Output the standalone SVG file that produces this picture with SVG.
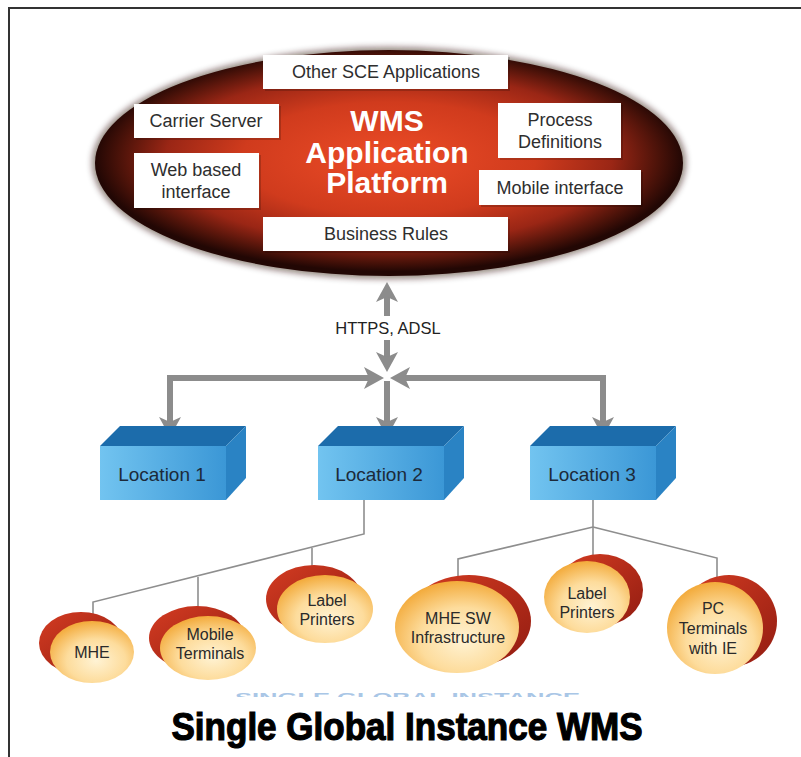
<svg xmlns="http://www.w3.org/2000/svg" width="801" height="757" viewBox="0 0 801 757">
  <defs>
    <radialGradient id="platformFill" cx="0.5" cy="0.48" r="0.5">
      <stop offset="0" stop-color="#ec4c27"/>
      <stop offset="0.5" stop-color="#d03b1d"/>
      <stop offset="0.76" stop-color="#9a2615"/>
      <stop offset="0.92" stop-color="#4a1209"/>
      <stop offset="1" stop-color="#220704"/>
    </radialGradient>
    <linearGradient id="frontFace" x1="0" y1="0" x2="1" y2="0">
      <stop offset="0" stop-color="#72c4f0"/>
      <stop offset="1" stop-color="#3b97d6"/>
    </linearGradient>
    <radialGradient id="discFace" cx="0.55" cy="0.64" r="0.64">
      <stop offset="0" stop-color="#fff3d4"/>
      <stop offset="0.55" stop-color="#fddc9c"/>
      <stop offset="1" stop-color="#f3ab3c"/>
    </radialGradient>
    <linearGradient id="discSide" x1="0" y1="0" x2="1" y2="1">
      <stop offset="0" stop-color="#d43c22"/>
      <stop offset="1" stop-color="#921c11"/>
    </linearGradient>
    <filter id="soft" x="-10%" y="-10%" width="120%" height="120%">
      <feGaussianBlur stdDeviation="3"/>
    </filter>
    <clipPath id="cutText">
      <rect x="200" y="692" width="420" height="5"/>
    </clipPath>
    <marker id="arrow" viewBox="0 0 20 22" refX="10" refY="11" markerWidth="20" markerHeight="22" markerUnits="userSpaceOnUse" orient="auto">
      <path d="M20,11 L0,0 L5,11 L0,22 Z" fill="#8c8c8c"/>
    </marker>
    <style>
      .box { fill: #ffffff; }
      .boxShadow { fill: #000000; opacity: 0.18; }
      .boxText { font-family: "Liberation Sans", Arial, sans-serif; font-size: 18px; fill: #2e2e2e; text-anchor: middle; }
      .title { font-family: "Liberation Sans", Arial, sans-serif; font-weight: bold; font-size: 30px; fill: #ffffff; text-anchor: middle; }
      .link { fill: none; stroke: #8c8c8c; stroke-width: 6; }
      .branch { fill: none; stroke: #8e8e8e; stroke-width: 1.6; }
      .locTop { fill: #1c6cab; }
      .locSide { fill: #2a83c4; }
      .locFront { fill: url(#frontFace); }
      .locText { font-family: "Liberation Sans", Arial, sans-serif; font-size: 19px; fill: #1c2a3a; text-anchor: middle; }
      .discSide { fill: url(#discSide); }
      .discFace { fill: url(#discFace); }
      .discText { font-family: "Liberation Sans", Arial, sans-serif; font-size: 16px; fill: #2a2a2a; text-anchor: middle; }
      .label { font-family: "Liberation Sans", Arial, sans-serif; font-size: 16.5px; fill: #222222; text-anchor: middle; }
    </style>
  </defs>

  <rect x="0" y="0" width="801" height="757" fill="#ffffff"/>

  <!-- page frame: top and left rules only -->
  <path d="M9,757 L9,8 L801,8" fill="none" stroke="#333333" stroke-width="2"/>

  <!-- WMS platform ellipse with its modules -->
  <g id="platform">
    <ellipse cx="389" cy="163" rx="297" ry="116" fill="#2a0904" opacity="0.5" filter="url(#soft)"/>
    <ellipse cx="389" cy="163" rx="294" ry="113" fill="url(#platformFill)"/>
    <text class="title" x="387" y="131">WMS</text>
    <text class="title" x="387" y="163">Application</text>
    <text class="title" x="387" y="193">Platform</text>
  </g>

  <g id="other-sce">
    <rect class="boxShadow" x="265" y="57" width="245" height="34"/>
    <rect class="box" x="263" y="55" width="245" height="34"/>
    <text class="boxText" x="386" y="78">Other SCE Applications</text>
  </g>
  <g id="carrier-server">
    <rect class="boxShadow" x="136" y="106" width="145" height="34"/>
    <rect class="box" x="134" y="104" width="145" height="34"/>
    <text class="boxText" x="206" y="127">Carrier Server</text>
  </g>
  <g id="web-interface">
    <rect class="boxShadow" x="136" y="155" width="125" height="55"/>
    <rect class="box" x="134" y="153" width="125" height="55"/>
    <text class="boxText" x="196" y="176">Web based</text>
    <text class="boxText" x="196" y="198">interface</text>
  </g>
  <g id="process-definitions">
    <rect class="boxShadow" x="500" y="105" width="123" height="55"/>
    <rect class="box" x="498" y="103" width="123" height="55"/>
    <text class="boxText" x="560" y="126">Process</text>
    <text class="boxText" x="560" y="148">Definitions</text>
  </g>
  <g id="mobile-interface">
    <rect class="boxShadow" x="481" y="172" width="162" height="35"/>
    <rect class="box" x="479" y="170" width="162" height="35"/>
    <text class="boxText" x="560" y="194">Mobile interface</text>
  </g>
  <g id="business-rules">
    <rect class="boxShadow" x="265" y="219" width="245" height="34"/>
    <rect class="box" x="263" y="217" width="245" height="34"/>
    <text class="boxText" x="386" y="240">Business Rules</text>
  </g>

  <!-- connectors -->
  <g id="connectors">
    <line class="link" x1="387" y1="316" x2="387" y2="292" marker-end="url(#arrow)"/>
    <line class="link" x1="387" y1="340" x2="387" y2="362" marker-end="url(#arrow)"/>
    <polyline class="link" points="170,378 374,378" marker-end="url(#arrow)"/>
    <polyline class="link" points="170,375 170,427" marker-end="url(#arrow)"/>
    <polyline class="link" points="603,378 400,378" marker-end="url(#arrow)"/>
    <polyline class="link" points="603,375 603,427" marker-end="url(#arrow)"/>
    <line class="link" x1="387" y1="381" x2="387" y2="427" marker-end="url(#arrow)"/>
    <text class="label" x="388" y="334">HTTPS, ADSL</text>

    <!-- Location 2 fan-out -->
    <polyline class="branch" points="364,500 364,534 93,602 93,614"/>
    <line class="branch" x1="198" y1="577" x2="198" y2="612"/>
    <line class="branch" x1="312" y1="548" x2="312" y2="568"/>
    <!-- Location 3 fan-out -->
    <line class="branch" x1="593" y1="500" x2="593" y2="556"/>
    <polyline class="branch" points="593,527 458,559 458,580"/>
    <polyline class="branch" points="593,527 717,558 717,580"/>
  </g>

  <!-- locations -->
  <g id="location-1">
    <polygon class="locTop" points="100,446 120,426 246,426 226,446"/>
    <polygon class="locSide" points="226,446 246,426 246,478 226,500"/>
    <rect class="locFront" x="100" y="446" width="126" height="54"/>
    <text class="locText" x="162" y="481">Location 1</text>
  </g>
  <g id="location-2">
    <polygon class="locTop" points="318,446 338,426 464,426 444,446"/>
    <polygon class="locSide" points="444,446 464,426 464,478 444,500"/>
    <rect class="locFront" x="318" y="446" width="126" height="54"/>
    <text class="locText" x="379" y="481">Location 2</text>
  </g>
  <g id="location-3">
    <polygon class="locTop" points="530,446 550,426 676,426 656,446"/>
    <polygon class="locSide" points="656,446 676,426 676,478 656,500"/>
    <rect class="locFront" x="530" y="446" width="126" height="54"/>
    <text class="locText" x="592" y="481">Location 3</text>
  </g>

  <!-- site devices -->
  <g id="mhe">
    <ellipse class="discSide" cx="81" cy="643" rx="42" ry="31"/>
    <ellipse class="discFace" cx="92" cy="652" rx="42" ry="31"/>
    <text class="discText" x="92" y="658">MHE</text>
  </g>
  <g id="mobile-terminals">
    <ellipse class="discSide" cx="197" cy="638" rx="48" ry="32"/>
    <ellipse class="discFace" cx="208" cy="648" rx="48" ry="32"/>
    <text class="discText" x="210" y="640">Mobile</text>
    <text class="discText" x="210" y="659">Terminals</text>
  </g>
  <g id="label-printers-2">
    <ellipse class="discSide" cx="314" cy="599" rx="48" ry="34"/>
    <ellipse class="discFace" cx="325" cy="609" rx="48" ry="34"/>
    <text class="discText" x="327" y="606">Label</text>
    <text class="discText" x="327" y="625">Printers</text>
  </g>
  <g id="mhe-sw">
    <ellipse class="discSide" cx="469" cy="621" rx="62" ry="46"/>
    <ellipse class="discFace" cx="457" cy="627" rx="62" ry="46"/>
    <text class="discText" x="458" y="624">MHE SW</text>
    <text class="discText" x="458" y="643">Infrastructure</text>
  </g>
  <g id="label-printers-3">
    <ellipse class="discSide" cx="600" cy="590" rx="43" ry="36"/>
    <ellipse class="discFace" cx="587" cy="597" rx="43" ry="36"/>
    <text class="discText" x="587" y="599">Label</text>
    <text class="discText" x="587" y="618">Printers</text>
  </g>
  <g id="pc-terminals">
    <ellipse class="discSide" cx="729" cy="621" rx="48" ry="46"/>
    <ellipse class="discFace" cx="715" cy="628" rx="48" ry="46"/>
    <text class="discText" x="713" y="614">PC</text>
    <text class="discText" x="713" y="634">Terminals</text>
    <text class="discText" x="713" y="654">with IE</text>
  </g>

  <!-- caption remnant, mostly cut off -->
  <text x="235" y="702" clip-path="url(#cutText)" textLength="345" lengthAdjust="spacingAndGlyphs" font-family="Liberation Sans, Arial, sans-serif" font-weight="bold" font-size="12" fill="#a9c6e6">SINGLE GLOBAL INSTANCE</text>

  <!-- heading -->
  <text x="407" y="740" text-anchor="middle" textLength="471" lengthAdjust="spacingAndGlyphs" font-family="Liberation Sans, Arial, sans-serif" font-weight="bold" font-size="38" fill="#000000" stroke="#000000" stroke-width="1.2">Single Global Instance WMS</text>
</svg>
